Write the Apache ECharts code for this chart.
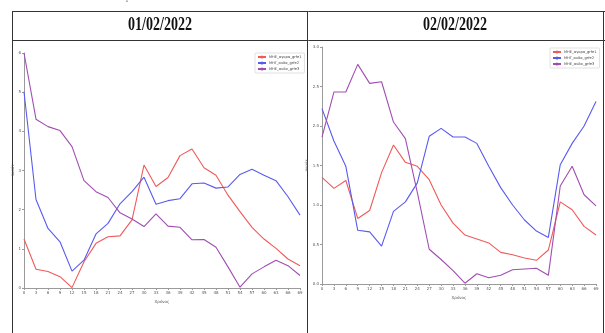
<!DOCTYPE html>
<html>
<head>
<meta charset="utf-8">
<script src="https://cdn.jsdelivr.net/npm/echarts@6/dist/echarts.min.js"></script>
<style>
html,body{margin:0;padding:0;background:#fff;}
#c{width:605px;height:333px;}
</style>
</head>
<body>
<div id="c"></div>
<script>
var categories = ['0','3','6','9','12','15','18','21','24','27','30','33','36','39','42','45','48','51','54','57','60','63','66','69'];
var titles = ['01/02/2022', '02/02/2022'];
var seriesNames = ['ΜΗΕ_αγορα_grfe1', 'ΜΗΓ_αυδα_grfe2', 'ΜΗΕ_αυδα_grfe3'];
var yTicksLeft = [0, 1, 2, 3, 4, 5, 6];
var yTicksRight = [0, 0.5, 1, 1.5, 2, 2.5, 3];

var day1Red    = [1.25,0.48,0.42,0.29,0.01,0.67,1.14,1.31,1.33,1.74,3.14,2.59,2.82,3.38,3.55,3.07,2.88,2.37,1.95,1.55,1.25,1.01,0.74,0.57];
var day1Blue   = [5.01,2.26,1.52,1.18,0.43,0.71,1.38,1.65,2.15,2.46,2.83,2.14,2.23,2.28,2.66,2.68,2.55,2.58,2.90,3.03,2.88,2.74,2.33,1.86];
var day1Purple = [6.00,4.31,4.12,4.02,3.61,2.74,2.46,2.31,1.92,1.76,1.57,1.89,1.58,1.55,1.23,1.24,1.04,0.54,0.02,0.36,0.54,0.71,0.57,0.32];

var day2Red    = [1.35,1.21,1.31,0.83,0.93,1.41,1.76,1.54,1.49,1.32,1.00,0.77,0.62,0.57,0.52,0.40,0.37,0.33,0.30,0.43,1.04,0.94,0.73,0.62];
var day2Blue   = [2.22,1.81,1.49,0.68,0.66,0.48,0.92,1.04,1.28,1.87,1.97,1.86,1.86,1.78,1.49,1.22,1.00,0.81,0.67,0.59,1.51,1.78,2.00,2.31];
var day2Purple = [1.86,2.43,2.43,2.78,2.54,2.56,2.05,1.84,1.16,0.44,0.31,0.17,0.01,0.13,0.08,0.11,0.18,0.19,0.20,0.11,1.24,1.49,1.13,0.99];

var colors = ['#f05a5a', '#5a5af0', '#a04eb2'];
var axisGray = '#9a9a9a';
var labelGray = '#555';

function xAxis(gi) {
  return {
    type: 'category', gridIndex: gi, data: categories, boundaryGap: false,
    name: 'Χρόνος', nameLocation: 'middle', nameGap: 10,
    nameTextStyle: {fontSize: 4, color: labelGray, fontFamily: 'DejaVu Sans'},
    axisLine: {lineStyle: {color: axisGray, width: 1}},
    axisTick: {show: true, length: 2, interval: 0, alignWithLabel: true, lineStyle: {color: axisGray}},
    axisLabel: {interval: 0, fontSize: 4, color: labelGray, margin: 3, fontFamily: 'DejaVu Sans'},
    splitLine: {show: false}
  };
}
function yAxis(gi, ticks, dec) {
  return {
    type: 'value', gridIndex: gi, min: ticks[0], max: ticks[ticks.length-1],
    interval: ticks[1]-ticks[0],
    name: 'ποσότ', nameLocation: 'middle', nameGap: 9, nameRotate: 90,
    nameTextStyle: {fontSize: 4, color: labelGray, fontFamily: 'DejaVu Sans'},
    axisLine: {show: true, lineStyle: {color: axisGray, width: 1}},
    axisTick: {show: true, length: 2, lineStyle: {color: axisGray}},
    axisLabel: {fontSize: 4, color: labelGray, margin: 3, fontFamily: 'DejaVu Sans',
      formatter: function(v){ return dec ? v.toFixed(1) : String(v); }},
    splitLine: {show: false}
  };
}
function line(name, data, ci, gi) {
  return {
    name: name, type: 'line', xAxisIndex: gi, yAxisIndex: gi, data: data,
    symbol: 'none', smooth: false, silent: true, animation: false,
    lineStyle: {color: colors[ci], width: 1.1}, itemStyle: {color: colors[ci]}
  };
}
function legend(gi, left, top) {
  return {
    orient: 'vertical', left: left, top: top,
    data: seriesNames,
    itemWidth: 8, itemHeight: 4, itemGap: 2, padding: [2, 3, 2, 2],
    borderColor: '#cccccc', borderWidth: 0.6, borderRadius: 1,
    textStyle: {fontSize: 3.6, color: '#444', fontFamily: 'DejaVu Sans', padding: [0,0,0,-2]},
    selectedMode: false
  };
}

var border = '#333';
function hline(x1, x2, y) { return {type:'line', shape:{x1:x1,y1:y,x2:x2,y2:y}, style:{stroke:border, lineWidth:1}, silent:true}; }
function vline(x, y1, y2) { return {type:'line', shape:{x1:x,y1:y1,x2:x,y2:y2}, style:{stroke:border, lineWidth:1}, silent:true}; }
function title(t, cx) {
  return {type:'text', x: cx, y: 25, scaleX: 0.78, silent: true,
    style:{text: t, font: 'bold 18px "Liberation Serif"', fill:'#111', textAlign:'center', textVerticalAlign:'middle'}};
}

var chart = echarts.init(document.getElementById('c'), null, {renderer: 'canvas'});
chart.setOption({
  animation: false,
  backgroundColor: '#fff',
  grid: [
    {left: 24, top: 53, width: 276, height: 235},
    {left: 322, top: 47, width: 274, height: 237}
  ],
  xAxis: [xAxis(0), xAxis(1)],
  yAxis: [yAxis(0, yTicksLeft, false), yAxis(1, yTicksRight, true)],
  legend: [legend(0, 255, 53), legend(1, 550, 48)],
  series: [
    line(seriesNames[0], day1Red, 0, 0),
    line(seriesNames[1], day1Blue, 1, 0),
    line(seriesNames[2], day1Purple, 2, 0),
    line(seriesNames[0], day2Red, 0, 1),
    line(seriesNames[1], day2Blue, 1, 1),
    line(seriesNames[2], day2Purple, 2, 1)
  ],
  graphic: [
    hline(12, 605, 11.5),
    hline(12, 605, 40.5),
    vline(12.5, 11, 333),
    vline(307.5, 11, 333),
    vline(603.5, 11, 333),
    title(titles[0], 160),
    title(titles[1], 455),
    {type:'text', x:127, y:4, silent:true, style:{text:'˘', font:'7px "DejaVu Sans"', fill:'#333', textAlign:'center', textVerticalAlign:'middle'}}
  ]
});
</script>
</body>
</html>
